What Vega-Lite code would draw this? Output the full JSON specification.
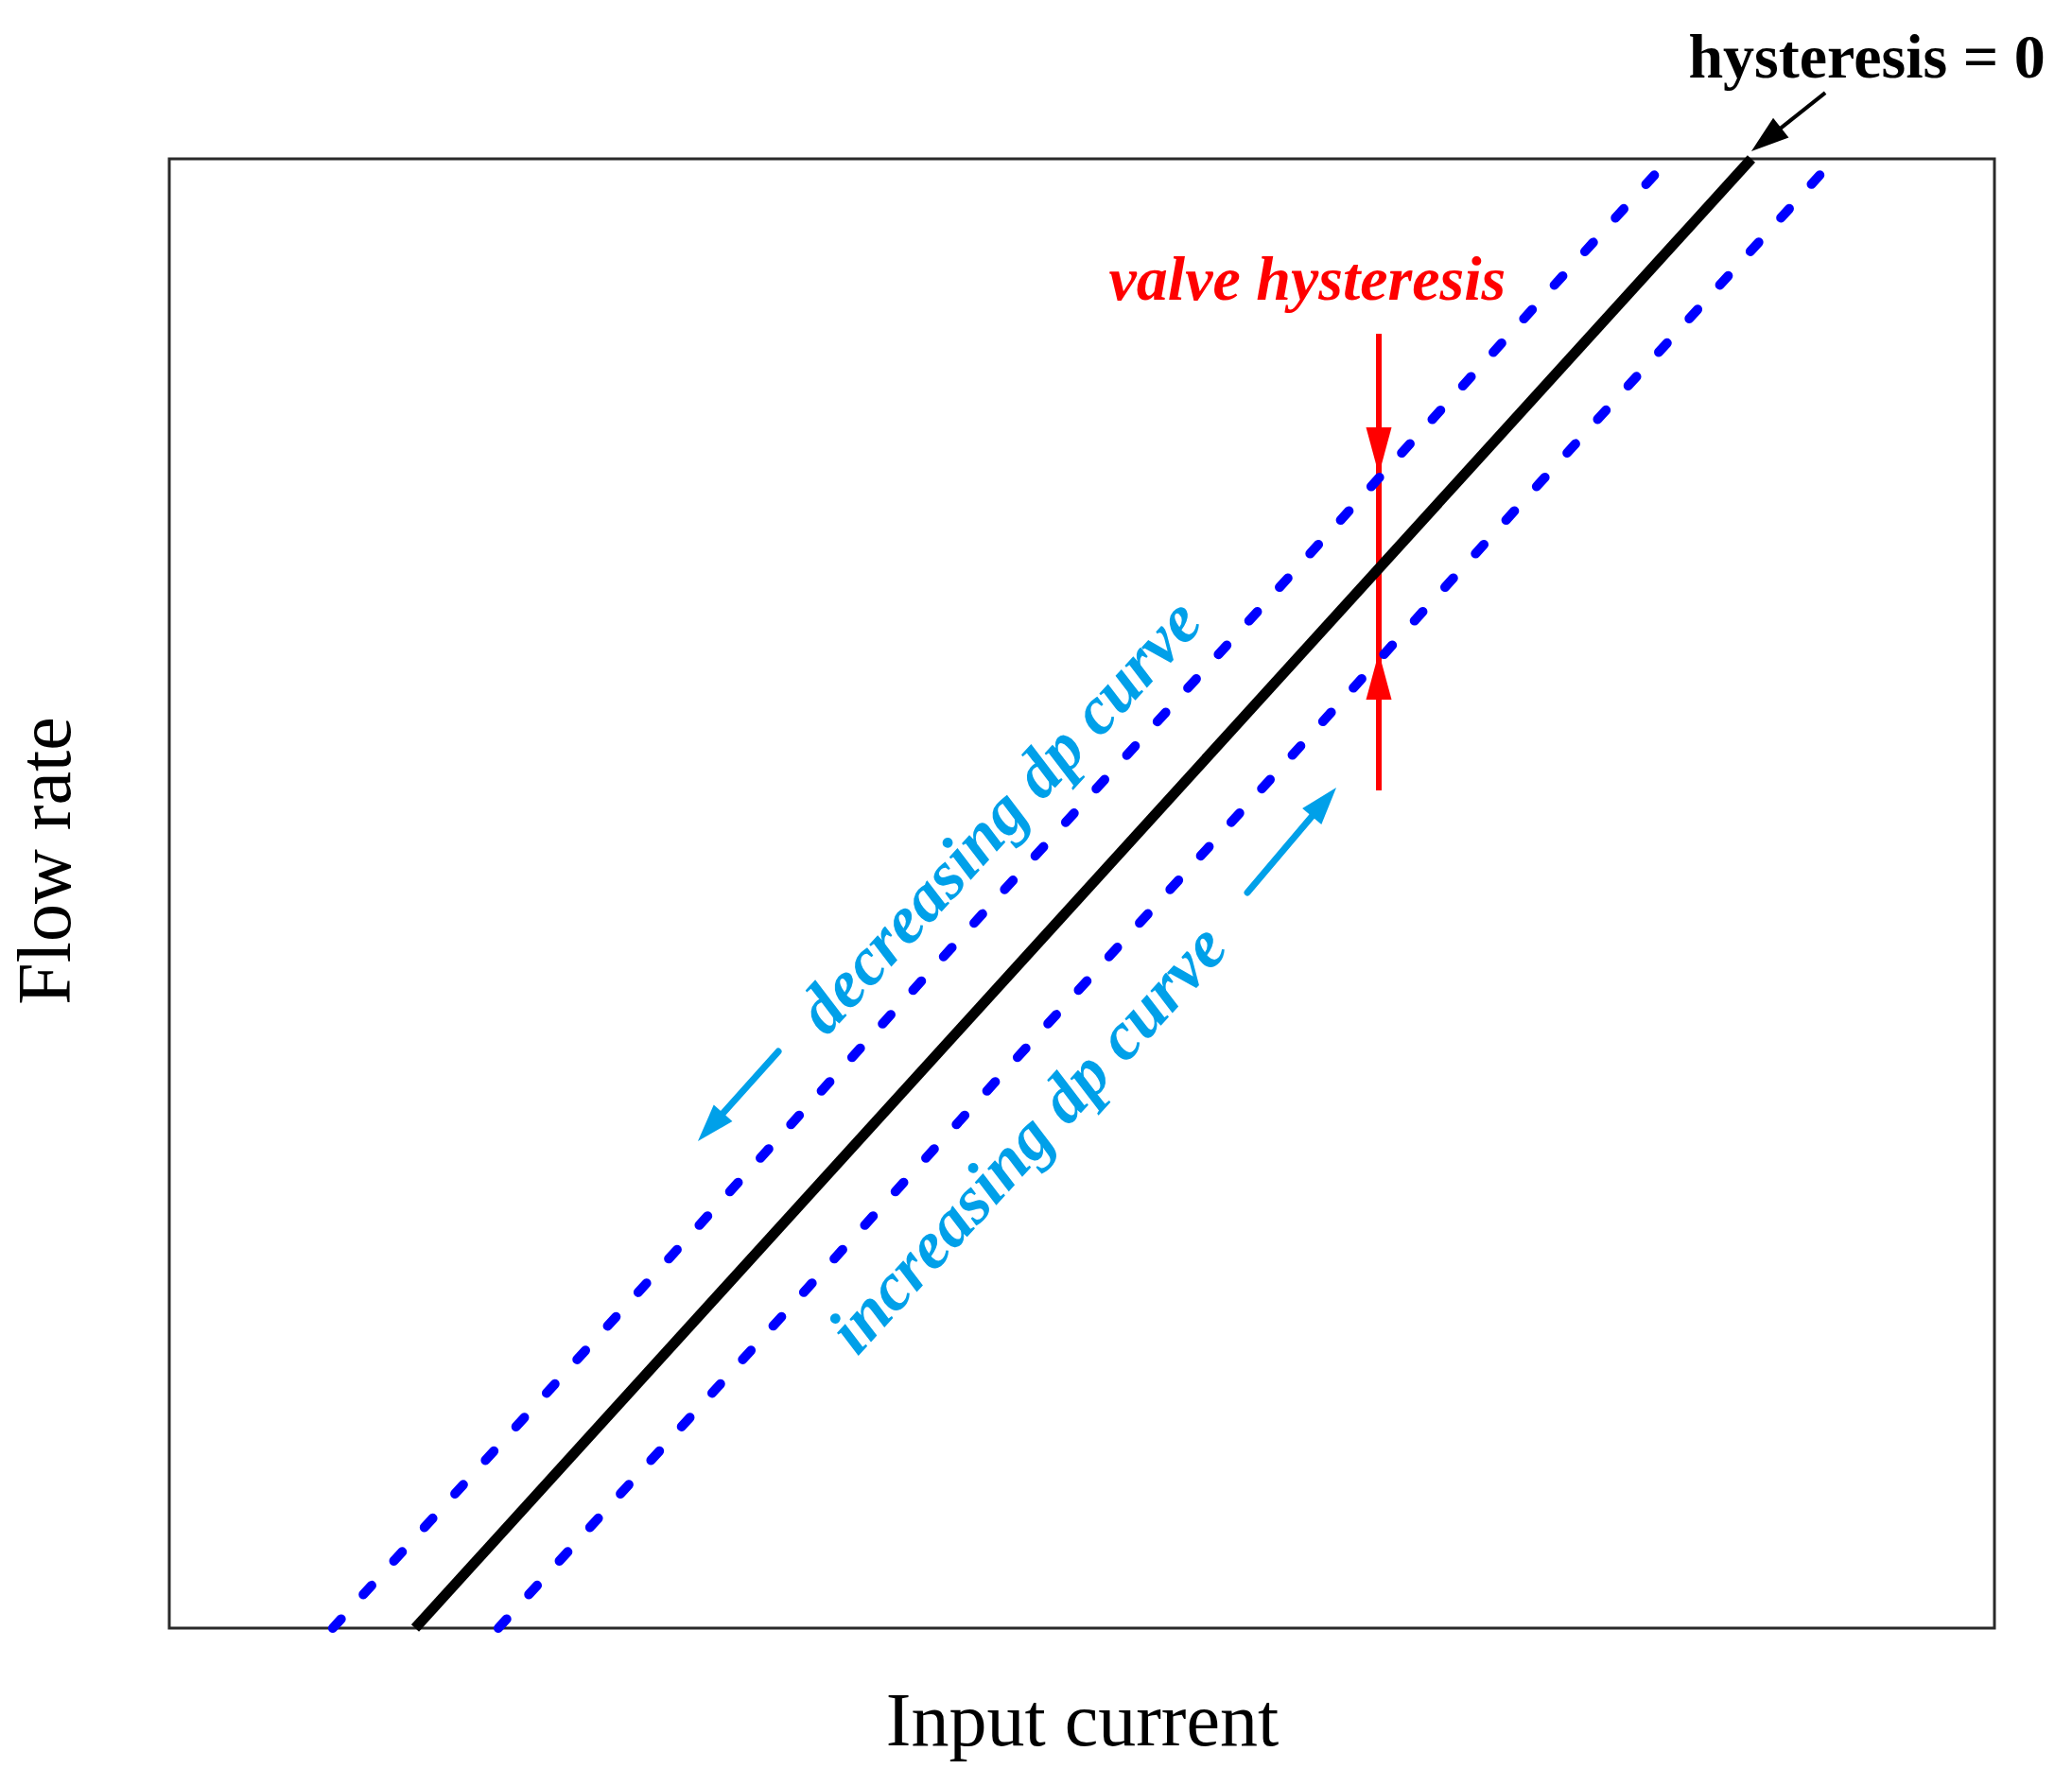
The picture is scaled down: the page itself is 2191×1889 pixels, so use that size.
{
  "$schema": "https://vega.github.io/schema/vega-lite/v6.json",
  "width": 1930,
  "height": 1554,
  "autosize": {"type": "none"},
  "padding": {"left": 179, "top": 168, "right": 82, "bottom": 167},
  "background": "white",
  "config": {
    "view": {"stroke": "#2a2a2a", "strokeWidth": 3},
    "font": "Liberation Serif"
  },
  "datasets": {
    "curves": [
      {"curve": "hysteresis = 0", "x": 1.347, "y": 0},
      {"curve": "hysteresis = 0", "x": 8.668, "y": 10},
      {"curve": "decreasing dp curve", "x": 0.896, "y": 0},
      {"curve": "decreasing dp curve", "x": 8.218, "y": 10},
      {"curve": "increasing dp curve", "x": 1.803, "y": 0},
      {"curve": "increasing dp curve", "x": 9.124, "y": 10}
    ],
    "arrows": [
      {"arrow": "pointer", "x": 9.073, "y": 10.45, "x2": 8.75, "y2": 10.131, "tx": 8.668, "ty": 10.051},
      {"arrow": "decreasing", "x": 3.337, "y": 3.925, "x2": 2.966, "y2": 3.41, "tx": 2.896, "ty": 3.314},
      {"arrow": "increasing", "x": 5.907, "y": 5.006, "x2": 6.327, "y2": 5.622, "tx": 6.394, "ty": 5.721},
      {"arrow": "hysteresis", "x": 6.627, "y": 8.81, "x2": 6.627, "y2": 5.701, "tx": 6.627, "ty": 7.851},
      {"arrow": "hysteresis up", "x": 6.627, "y": 5.701, "x2": 6.627, "y2": 5.701, "tx": 6.627, "ty": 6.641}
    ],
    "labels": [
      {"label": "hysteresis = 0", "x": 9.301, "y": 10.553},
      {"label": "valve hysteresis", "x": 6.235, "y": 9.041},
      {"label": "decreasing dp curve", "x": 4.637, "y": 5.425},
      {"label": "increasing dp curve", "x": 4.791, "y": 3.23}
    ]
  },
  "encoding": {
    "x": {
      "field": "x", "type": "quantitative",
      "scale": {"domain": [0, 10], "nice": false, "zero": false},
      "axis": {
        "title": "Input current", "grid": false, "ticks": false, "labels": false, "domain": false,
        "titleFont": "Liberation Serif", "titleFontSize": 80, "titleFontWeight": "normal", "titleColor": "black",
        "titleBaseline": "alphabetic", "titleY": 123
      }
    },
    "y": {
      "field": "y", "type": "quantitative",
      "scale": {"domain": [0, 10], "nice": false, "zero": false},
      "axis": {
        "title": "Flow rate", "grid": false, "ticks": false, "labels": false, "domain": false,
        "titleFont": "Liberation Serif", "titleFontSize": 80, "titleFontWeight": "normal", "titleColor": "black",
        "titleBaseline": "alphabetic", "titleAngle": 270, "titleAlign": "center", "titleX": -106, "titleY": 742
      }
    }
  },
  "layer": [
    {
      "data": {"name": "arrows"},
      "transform": [{"filter": "datum.arrow === 'hysteresis'"}],
      "mark": {"type": "rule", "color": "#ff0000", "strokeWidth": 6},
      "encoding": {"x2": {"field": "x2"}, "y2": {"field": "y2"}}
    },
    {
      "data": {"name": "arrows"},
      "transform": [{"filter": "datum.arrow === 'hysteresis'"}],
      "mark": {"type": "point", "shape": "M0,0L0.27,1L-0.27,1Z", "size": 10000, "filled": true, "color": "#ff0000", "opacity": 1, "angle": 180},
      "encoding": {"x": {"field": "tx", "type": "quantitative"}, "y": {"field": "ty", "type": "quantitative"}}
    },
    {
      "data": {"name": "arrows"},
      "transform": [{"filter": "datum.arrow === 'hysteresis up'"}],
      "mark": {"type": "point", "shape": "M0,0L0.27,1L-0.27,1Z", "size": 10000, "filled": true, "color": "#ff0000", "opacity": 1, "angle": 0},
      "encoding": {"x": {"field": "tx", "type": "quantitative"}, "y": {"field": "ty", "type": "quantitative"}}
    },
    {
      "data": {"name": "curves"},
      "transform": [{"filter": "datum.curve === 'decreasing dp curve'"}],
      "mark": {"type": "line", "color": "#0000ff", "strokeWidth": 10, "strokeDash": [13, 35], "strokeCap": "round"},
      "encoding": {}
    },
    {
      "data": {"name": "curves"},
      "transform": [{"filter": "datum.curve === 'increasing dp curve'"}],
      "mark": {"type": "line", "color": "#0000ff", "strokeWidth": 10, "strokeDash": [13, 35], "strokeCap": "round"},
      "encoding": {}
    },
    {
      "data": {"name": "curves"},
      "transform": [{"filter": "datum.curve === 'hysteresis = 0'"}],
      "mark": {"type": "line", "color": "#000000", "strokeWidth": 11},
      "encoding": {}
    },
    {
      "data": {"name": "arrows"},
      "transform": [{"filter": "datum.arrow === 'pointer'"}],
      "mark": {"type": "rule", "color": "#000000", "strokeWidth": 4},
      "encoding": {"x2": {"field": "x2"}, "y2": {"field": "y2"}}
    },
    {
      "data": {"name": "arrows"},
      "transform": [{"filter": "datum.arrow === 'pointer'"}],
      "mark": {"type": "point", "shape": "M0,0L0.33,1L-0.33,1Z", "size": 6400, "filled": true, "color": "#000000", "opacity": 1, "angle": 231.5},
      "encoding": {"x": {"field": "tx", "type": "quantitative"}, "y": {"field": "ty", "type": "quantitative"}}
    },
    {
      "data": {"name": "arrows"},
      "transform": [{"filter": "datum.arrow === 'decreasing' || datum.arrow === 'increasing'"}],
      "mark": {"type": "rule", "color": "#00a0e9", "strokeWidth": 7, "strokeCap": "round"},
      "encoding": {"x2": {"field": "x2"}, "y2": {"field": "y2"}}
    },
    {
      "data": {"name": "arrows"},
      "transform": [{"filter": "datum.arrow === 'decreasing'"}],
      "mark": {"type": "point", "shape": "M0,0L0.33,1L-0.33,1Z", "size": 6400, "filled": true, "color": "#00a0e9", "opacity": 1, "angle": 221.8},
      "encoding": {"x": {"field": "tx", "type": "quantitative"}, "y": {"field": "ty", "type": "quantitative"}}
    },
    {
      "data": {"name": "arrows"},
      "transform": [{"filter": "datum.arrow === 'increasing'"}],
      "mark": {"type": "point", "shape": "M0,0L0.33,1L-0.33,1Z", "size": 6400, "filled": true, "color": "#00a0e9", "opacity": 1, "angle": 40.2},
      "encoding": {"x": {"field": "tx", "type": "quantitative"}, "y": {"field": "ty", "type": "quantitative"}}
    },
    {
      "data": {"name": "labels"},
      "transform": [{"filter": "datum.label === 'hysteresis = 0'"}],
      "mark": {"type": "text", "font": "Liberation Serif", "fontWeight": "bold", "fontSize": 66, "color": "#000000", "align": "center", "baseline": "alphabetic"},
      "encoding": {"text": {"field": "label"}}
    },
    {
      "data": {"name": "labels"},
      "transform": [{"filter": "datum.label === 'valve hysteresis'"}],
      "mark": {"type": "text", "font": "Liberation Serif", "fontWeight": "bold", "fontStyle": "italic", "fontSize": 66, "color": "#ff0000", "align": "center", "baseline": "alphabetic"},
      "encoding": {"text": {"field": "label"}}
    },
    {
      "data": {"name": "labels"},
      "transform": [{"filter": "datum.label === 'decreasing dp curve' || datum.label === 'increasing dp curve'"}],
      "mark": {"type": "text", "font": "Liberation Serif", "fontWeight": "bold", "fontStyle": "italic", "fontSize": 72, "color": "#00a0e9", "align": "center", "baseline": "alphabetic", "angle": 312.5},
      "encoding": {"text": {"field": "label"}}
    }
  ]
}
